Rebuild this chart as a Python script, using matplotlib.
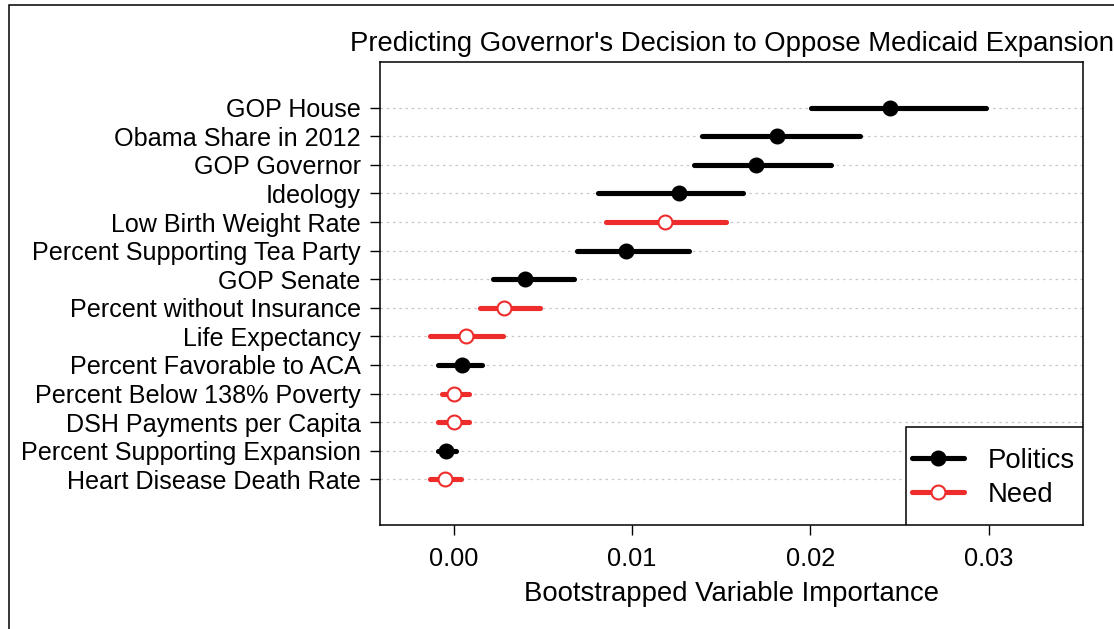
import matplotlib.pyplot as plt
from matplotlib.lines import Line2D
from matplotlib.patches import Rectangle

plt.rcParams['font.family'] = ['Liberation Sans', 'DejaVu Sans']

# variables, top to bottom
labels = ['GOP House', 'Obama Share in 2012', 'GOP Governor', 'Ideology',
          'Low Birth Weight Rate', 'Percent Supporting Tea Party', 'GOP Senate',
          'Percent without Insurance', 'Life Expectancy', 'Percent Favorable to ACA',
          'Percent Below 138% Poverty', 'DSH Payments per Capita',
          'Percent Supporting Expansion', 'Heart Disease Death Rate']
groups = ['Politics', 'Politics', 'Politics', 'Politics', 'Need', 'Politics', 'Politics',
          'Need', 'Need', 'Politics', 'Need', 'Need', 'Politics', 'Need']
importance = [0.02449, 0.01813, 0.01695, 0.01262, 0.01187, 0.00965, 0.00398,
              0.00282, 0.00069, 0.00047, 0.00000, 0.00000, -0.00043, -0.00047]
lower = [0.02004, 0.01393, 0.01345, 0.00807, 0.00854, 0.00689, 0.00222,
         0.00146, -0.00134, -0.00087, -0.00065, -0.00087, -0.00087, -0.00134]
upper = [0.02985, 0.02279, 0.02116, 0.01623, 0.01527, 0.01317, 0.00675,
         0.00484, 0.00277, 0.00158, 0.00087, 0.00087, 0.00016, 0.00042]

red = '#EE2C2C'
colors = {'Politics': 'black', 'Need': red}
faces = {'Politics': 'black', 'Need': 'white'}

fig = plt.figure(figsize=(11.14, 6.29), dpi=100)
ax = fig.add_axes([0.3411, 0.1653, 0.6311, 0.7361])

n = len(labels)
ypos = list(range(n, 0, -1))

for y in ypos:
    ax.axhline(y, color='#c8c8c8', lw=0.9, ls=(0, (2, 3)), zorder=1)

for i in range(n):
    g = groups[i]
    ax.plot([lower[i], upper[i]], [ypos[i], ypos[i]], color=colors[g], lw=3.7,
            solid_capstyle='round', zorder=2)
    ax.plot(importance[i], ypos[i], 'o', ms=10, mfc=faces[g], mec=colors[g],
            mew=1.5, zorder=3)

ax.set_xlim(-0.00413, 0.03529)
ax.set_ylim(-0.6, 15.6)
ax.set_yticks(ypos)
ax.set_yticklabels(labels, fontsize=18.1)
ax.set_xticks([0, 0.01, 0.02, 0.03])
ax.set_xticklabels(['0.00', '0.01', '0.02', '0.03'], fontsize=18.3)
ax.tick_params(axis='y', length=7, width=1, pad=7)
ax.tick_params(axis='x', length=7, width=1, pad=9)
for s in ax.spines.values():
    s.set_linewidth(1.1)

ax.set_xlabel('Bootstrapped Variable Importance', fontsize=19.8, labelpad=7)
ax.set_title("Predicting Governor's Decision to Oppose Medicaid Expansion",
             fontsize=19.8, pad=8)

# legend: entries from the library, box drawn like R's (tall, tight sides)
handles = [Line2D([], [], color='black', lw=3.7, marker='o', ms=10,
                  mfc='black', mec='black', mew=1.5, solid_capstyle='round'),
           Line2D([], [], color=red, lw=3.7, marker='o', ms=10,
                  mfc='white', mec=red, mew=1.5, solid_capstyle='round')]
leg = ax.legend(handles, ['Politics', 'Need'], loc='center',
                bbox_to_anchor=(0.8725, 0.102), fontsize=19.8, frameon=False,
                borderaxespad=0, borderpad=0, handlelength=1.9,
                handletextpad=0.86, labelspacing=0.27)
leg.set_zorder(5)
ax.add_patch(Rectangle((0.748, 0), 0.252, 0.212, transform=ax.transAxes,
                       fc='white', ec='black', lw=1.1, zorder=4))

# outer frame of the figure
fig.patches.append(Rectangle((9 / 1114, -0.1), 1.2, 1.1 - 5 / 629, fill=False,
                             ec='black', lw=1.1, transform=fig.transFigure))

fig.savefig('out.png', dpi=100)
